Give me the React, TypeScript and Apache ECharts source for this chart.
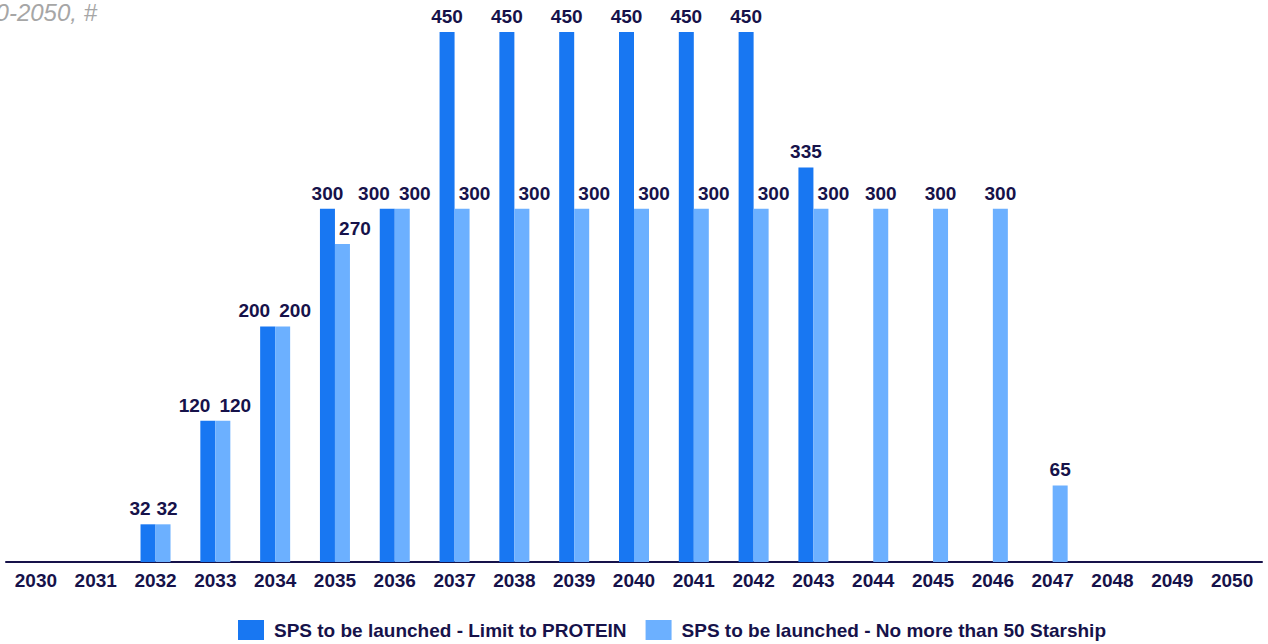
import React, { useEffect, useRef } from "react";
import * as echarts from "echarts";

const years = ["2030","2031","2032","2033","2034","2035","2036","2037","2038","2039","2040","2041","2042","2043","2044","2045","2046","2047","2048","2049","2050"];
const limitProtein = [null, null, 32, 120, 200, 300, 300, 450, 450, 450, 450, 450, 450, 335, null, null, null, null, null, null, null];
const max50Starship = [null, null, 32, 120, 200, 270, 300, 300, 300, 300, 300, 300, 300, 300, 300, 300, 300, 65, null, null, null];
const seriesNames = ["SPS to be launched - Limit to PROTEIN", "SPS to be launched - No more than 50 Starship"];
const titleText = "2030-2050, #";

const NAVY = "#16124a";
const FONT = "Liberation Sans, Arial, sans-serif";
const FS = 19;

function textW(v: number) {
  return String(v).length * FS * 0.556;
}

export default function App() {
  const ref = useRef<HTMLDivElement>(null);
  useEffect(() => {
    const chart = echarts.init(ref.current!, null, { renderer: "svg" });
    const label = { show: true, position: "top", distance: 6, color: NAVY, fontWeight: "bold", fontSize: FS, fontFamily: FONT };
    // shift labels sideways where the two series' labels would collide
    const darkData = limitProtein.map((v, i) => {
      if (v == null) return null;
      const o = max50Starship[i];
      const shift = o != null && o === v ? -(textW(v) / 2 - 2.5) : 0;
      return { value: v, label: { offset: [shift, 0] } };
    });
    const lightData = max50Starship.map((v, i) => {
      if (v == null) return null;
      const d = limitProtein[i];
      const shift = d != null ? (String(v).length > 2 ? 12.5 : 4) : 0;
      return { value: v, label: { offset: [shift, 0] } };
    });
    chart.setOption({
      animation: false,
      graphic: [
        { type: "text", right: 1268 - 97, top: 0, style: { text: titleText, fill: "#a6a6a6", font: "italic 24px " + FONT, textAlign: "right" } },
      ],
      grid: { left: 6, right: 6, top: 32, bottom: 82, containLabel: false },
      legend: {
        top: 620,
        left: 238,
        padding: 0,
        icon: "rect",
        itemWidth: 26,
        itemHeight: 20,
        itemGap: 19,
        textStyle: { color: NAVY, fontWeight: "bold", fontSize: FS, fontFamily: FONT, padding: [0, 0, 0, 5] },
        data: seriesNames,
      },
      xAxis: {
        type: "category",
        data: years,
        axisLine: { lineStyle: { color: NAVY, width: 2 } },
        axisTick: { show: false },
        axisLabel: { color: NAVY, fontWeight: "bold", fontSize: FS, fontFamily: FONT, margin: 9, interval: 0 },
      },
      yAxis: { type: "value", min: 0, max: 450, show: false, splitLine: { show: false } },
      series: [
        { name: seriesNames[0], type: "bar", data: darkData, barWidth: 15, barGap: "0%", itemStyle: { color: "#1877f2" }, label },
        { name: seriesNames[1], type: "bar", data: lightData, barWidth: 15, itemStyle: { color: "#6cb0ff" }, label },
      ],
    });
    return () => chart.dispose();
  }, []);
  return <div ref={ref} style={{ width: 1268, height: 644, position: "absolute", left: 0, top: 0 }} />;
}
